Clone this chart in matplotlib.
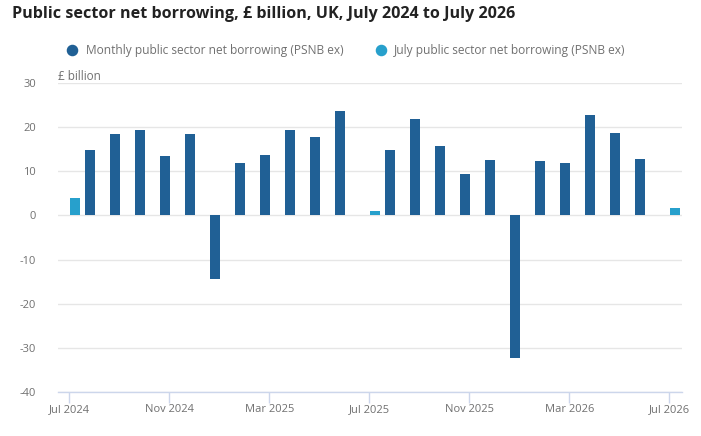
import matplotlib
matplotlib.use("Agg")
import matplotlib.pyplot as plt
from matplotlib.lines import Line2D

# === Data ===
months = ["Jul 2024", "Aug 2024", "Sep 2024", "Oct 2024", "Nov 2024", "Dec 2024",
          "Jan 2025", "Feb 2025", "Mar 2025", "Apr 2025", "May 2025", "Jun 2025",
          "Jul 2025", "Aug 2025", "Sep 2025", "Oct 2025", "Nov 2025", "Dec 2025",
          "Jan 2026", "Feb 2026", "Mar 2026", "Apr 2026", "May 2026", "Jun 2026",
          "Jul 2026"]
monthly = [None, 14.8, 18.6, 19.3, 13.4, 18.4,
           -14.4, 11.9, 13.7, 19.3, 17.7, 23.8,
           None, 14.8, 22.0, 15.7, 9.4, 12.5,
           -32.3, 12.3, 11.9, 22.9, 18.8, 12.8,
           None]
july = {"Jul 2024": 4.0, "Jul 2025": 1.0, "Jul 2026": 1.7}
tick_labels = ["Jul 2024", "Nov 2024", "Mar 2025", "Jul 2025", "Nov 2025", "Mar 2026", "Jul 2026"]
series_names = ["Monthly public sector net borrowing (PSNB ex)",
                "July public sector net borrowing (PSNB ex)"]

DARK = "#206095"
LIGHT = "#27a0cc"
GREY = "#707070"

plt.rcParams['font.family'] = ['Open Sans', 'DejaVu Sans']

W, H = 701, 436
fig = plt.figure(figsize=(W / 100, H / 100), dpi=100)
ax = fig.add_axes([58.3 / W, 1 - 391.7 / H, (682 - 58.3) / W, (391.7 - 83.3) / H])

# === Bars ===
idx = list(range(len(months)))
mx = [i - 0.38 for i, v in zip(idx, monthly) if v is not None]
mv = [v for v in monthly if v is not None]
ax.bar(mx, mv, width=0.4, align="edge", color=DARK, zorder=3)
jx = [months.index(m) + 0.02 for m in july]
ax.bar(jx, list(july.values()), width=0.4, align="edge", color=LIGHT, zorder=3)

# === Axes styling ===
ax.set_xlim(-0.44, 24.5)
ax.set_ylim(-40, 30)
ax.set_yticks(range(-40, 31, 10))
ax.set_yticklabels([str(t) for t in range(-40, 31, 10)])
ax.set_xticks([months.index(t) for t in tick_labels])
ax.set_xticklabels(tick_labels)
ax.grid(axis="y", color="#e6e6e6", linewidth=1, zorder=0)
for s in ["top", "right", "left"]:
    ax.spines[s].set_visible(False)
ax.spines["bottom"].set_color("#ccd6eb")
ax.spines["bottom"].set_linewidth(1)
ax.tick_params(axis="x", colors="#ccd6eb", length=8, width=1, labelcolor=GREY, labelsize=8, pad=1)
ax.tick_params(axis="y", length=0, labelcolor=GREY, labelsize=8, pad=16)

# === Texts ===
fig.text(12 / W, 1 - 14 / H, "Public sector net borrowing, £ billion, UK, July 2024 to July 2026",
         fontsize=11.65, fontweight="bold", color="#222222", va="center", ha="left")
fig.text(58 / W, 1 - 76 / H, "£ billion", fontsize=8.5, color=GREY, va="center", ha="left")

# legend drawn by hand: marker + label
for name, col, mxp in zip(series_names, [DARK, LIGHT], [72.3, 380.5]):
    fig.add_artist(Line2D([mxp / W], [1 - 50 / H], marker="o", markersize=7.3,
                          linestyle="", color=col, transform=fig.transFigure))
    fig.text((mxp + 13.7) / W, 1 - 50.5 / H, name, fontsize=8.6, color=GREY,
             va="center", ha="left")

fig.savefig("out.png", dpi=100)
